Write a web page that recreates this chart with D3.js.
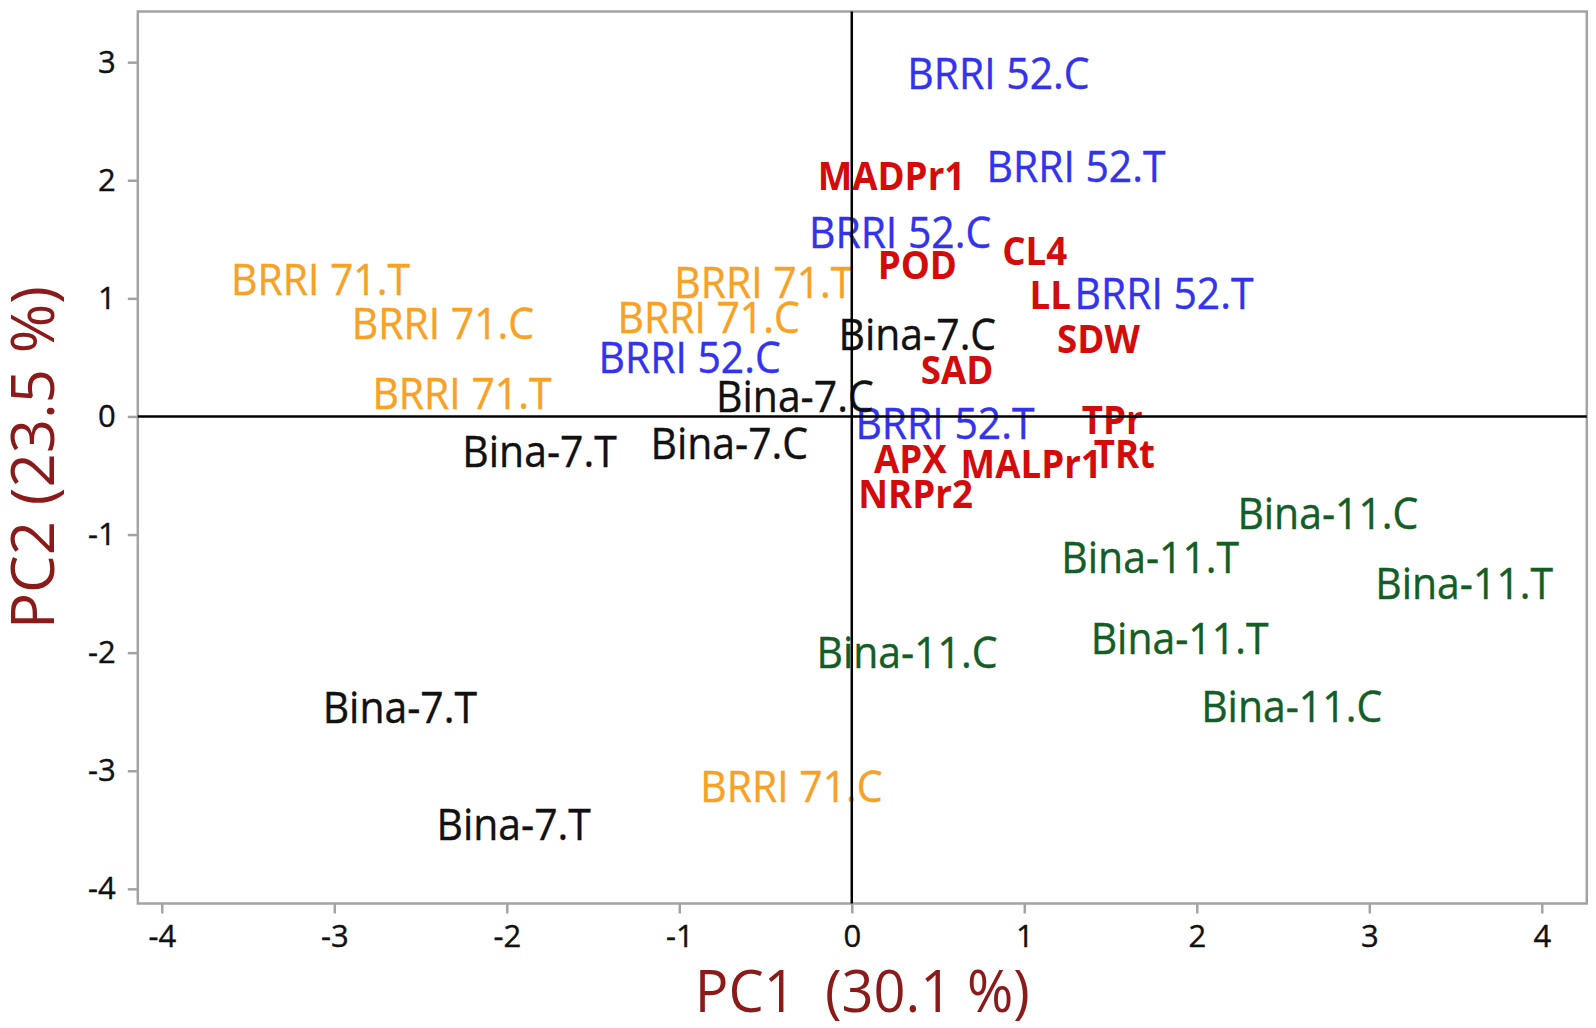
<!DOCTYPE html>
<html><head><meta charset="utf-8">
<script src="https://cdn.jsdelivr.net/npm/d3@7"></script>
<style>body{margin:0;background:#fff}</style>
</head><body>
<svg id="c" width="1596" height="1028"></svg>
<script>
// ---- data ----
const xTicks = [-4, -3, -2, -1, 0, 1, 2, 3, 4];
const yTicks = [-4, -3, -2, -1, 0, 1, 2, 3];
const xTitle = "PC1  (30.1 %)";
const yTitle = "PC2 (23.5 %)";

const groupNames = ["BRRI 71", "BRRI 52", "Bina-7", "Bina-11"];

const obsLabels = [
  "BRRI 71.T", "BRRI 71.C", "BRRI 71.T", "BRRI 71.T", "BRRI 71.C", "BRRI 71.C",
  "BRRI 52.C", "BRRI 52.C", "BRRI 52.C", "BRRI 52.T", "BRRI 52.T", "BRRI 52.T",
  "Bina-7.T", "Bina-7.T", "Bina-7.T", "Bina-7.C", "Bina-7.C", "Bina-7.C",
  "Bina-11.C", "Bina-11.C", "Bina-11.C", "Bina-11.T", "Bina-11.T", "Bina-11.T"
];
const obsGroup = [
  "BRRI 71", "BRRI 71", "BRRI 71", "BRRI 71", "BRRI 71", "BRRI 71",
  "BRRI 52", "BRRI 52", "BRRI 52", "BRRI 52", "BRRI 52", "BRRI 52",
  "Bina-7", "Bina-7", "Bina-7", "Bina-7", "Bina-7", "Bina-7",
  "Bina-11", "Bina-11", "Bina-11", "Bina-11", "Bina-11", "Bina-11"
];
const obsPC1 = [
  -3.08, -2.37, -2.26, -0.51, -0.83, -0.35,
  -0.94, 0.85, 0.28, 1.30, 1.81, 0.54,
  -1.81, -2.62, -1.96, -0.33, -0.71, 0.38,
  2.76, 0.32, 2.55, 1.73, 3.55, 1.90
];
const obsPC2 = [
  1.16, 0.79, 0.20, 1.14, 0.84, -3.13,
  0.50, 2.91, 1.56, 2.12, 1.04, -0.06,
  -0.29, -2.46, -3.45, 0.17, -0.23, 0.70,
  -0.82, -2.00, -2.45, -1.19, -1.41, -1.88
];

const varLabels = ["MADPr1", "POD", "CL4", "LL", "SDW", "SAD", "TPr", "TRt", "APX", "MALPr1", "NRPr2"];
const varPC1 = [0.23, 0.38, 1.06, 1.15, 1.43, 0.61, 1.51, 1.58, 0.34, 1.04, 0.37];
const varPC2 = [2.04, 1.28, 1.40, 1.03, 0.66, 0.39, -0.03, -0.32, -0.36, -0.40, -0.66];

// ---- styles ----
const groupColor = {"BRRI 71": "#f7a125", "BRRI 52": "#3333ee", "Bina-7": "#111111", "Bina-11": "#155d27"};
const varColor = "#d40b0b";
const titleColor = "#8b1a1a";
const frameColor = "#a3a3a3";
const W = 1596, H = 1028;
const M = {left: 137.8, right: 1586.8, top: 11.5, bottom: 903.5};

const svg = d3.select("#c");
svg.append("rect").attr("width", W).attr("height", H).attr("fill", "#fff");

const x = d3.scaleLinear().domain([-4.139, 4.261]).range([M.left, M.right]);
const y = d3.scaleLinear().domain([-4.124, 3.429]).range([M.bottom, M.top]);

// axes
const xAxis = svg.append("g").attr("transform", `translate(0,${M.bottom})`)
  .call(d3.axisBottom(x).tickValues(xTicks).tickSize(10).tickPadding(11).tickFormat(d => String(d)));
const yAxis = svg.append("g").attr("transform", `translate(${M.left},0)`)
  .call(d3.axisLeft(y).tickValues(yTicks).tickSize(10).tickPadding(12).tickFormat(d => String(d)));
[xAxis, yAxis].forEach(g => {
  g.select(".domain").remove();
  g.selectAll(".tick line").attr("stroke", frameColor).attr("stroke-width", 2.5);
  g.selectAll(".tick text").attr("fill", "#111").attr("font-family", "Open Sans").attr("font-size", 31)
    .attr("stroke", "#111").attr("stroke-width", 0.4);
});

// frame
svg.append("rect").attr("x", M.left).attr("y", M.top)
  .attr("width", M.right - M.left).attr("height", M.bottom - M.top)
  .attr("fill", "none").attr("stroke", frameColor).attr("stroke-width", 2.5);

// observation labels
const obs = obsLabels.map((l, i) => ({label: l, g: obsGroup[i], px: obsPC1[i], py: obsPC2[i]}));
svg.append("g").selectAll("text").data(obs).join("text")
  .attr("transform", d => `translate(${x(d.px)},${y(d.py)}) scale(0.93,1)`)
  .attr("text-anchor", "middle").attr("dy", "0.36em")
  .attr("font-family", "Open Sans").attr("font-size", 44)
  .attr("fill", d => groupColor[d.g]).attr("stroke", d => groupColor[d.g]).attr("stroke-width", 0.4)
  .text(d => d.label);

// variable labels
const vars = varLabels.map((l, i) => ({label: l, px: varPC1[i], py: varPC2[i]}));
svg.append("g").selectAll("text").data(vars).join("text")
  .attr("transform", d => `translate(${x(d.px)},${y(d.py)}) scale(0.94,1)`)
  .attr("text-anchor", "middle").attr("dy", "0.36em")
  .attr("font-family", "Open Sans").attr("font-weight", "bold").attr("font-size", 39)
  .attr("fill", varColor).text(d => d.label);

// zero lines
svg.append("line").attr("x1", M.left).attr("x2", M.right).attr("y1", y(0)).attr("y2", y(0))
  .attr("stroke", "#000").attr("stroke-width", 2.5);
svg.append("line").attr("x1", x(0)).attr("x2", x(0)).attr("y1", M.top).attr("y2", M.bottom)
  .attr("stroke", "#000").attr("stroke-width", 2.5);

// titles
svg.append("text").attr("transform", `translate(${(M.left + M.right) / 2},1012) scale(0.95,1)`)
  .attr("text-anchor", "middle").attr("font-family", "Open Sans").attr("font-size", 59)
  .attr("fill", titleColor).style("white-space", "pre").text(xTitle);
svg.append("text").attr("transform", `translate(54,${(M.top + M.bottom) / 2}) rotate(-90)`)
  .attr("text-anchor", "middle").attr("font-family", "Open Sans").attr("font-size", 60)
  .attr("fill", titleColor).text(yTitle);
</script>
</body></html>
